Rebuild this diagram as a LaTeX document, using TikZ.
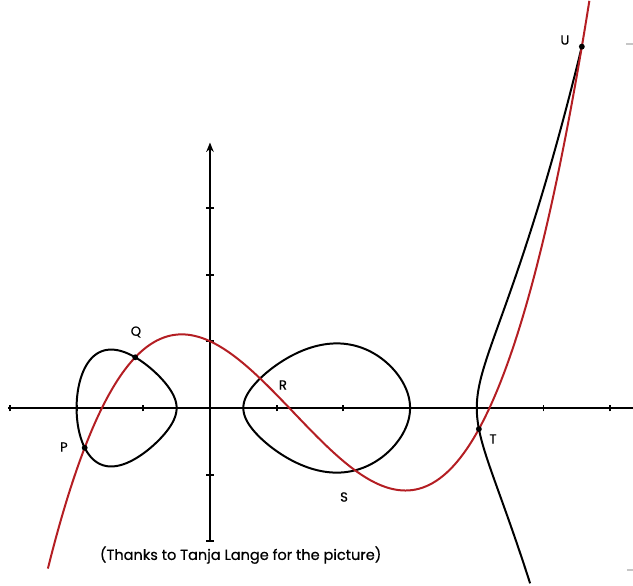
\documentclass[tikz,border=0pt]{standalone}
\usepackage{fontspec}
\setmainfont{Poppins}
\newfontfamily\labelfont[BoldFont=Poppins, BoldFeatures={FakeBold=0.6}]{Poppins}
\usetikzlibrary{intersections,arrows.meta}
\definecolor{curvered}{RGB}{180,30,35}
\begin{document}
\begin{tikzpicture}[x=1cm,y=1cm,
  declare function={
    gg(\x)=0.124*(\x+1.62)*(\x-1.19)*(\x-4.19);
    lx(\t)=-1.25-0.75*cos(\t);
    ly(\t)=0.75*sin(\t)*sqrt(0.031*(0.5-lx(\t))*(3-lx(\t))*(4-lx(\t)));
    rx(\t)=1.75-1.25*cos(\t);
    ry(\t)=1.25*sin(\t)*sqrt(0.031*(rx(\t)+2)*(rx(\t)+0.5)*(4-rx(\t)));
    bx(\s)=4+\s*\s;
    by(\s)=\s*sqrt(0.031*(bx(\s)+2)*(bx(\s)+0.5)*(bx(\s)-0.5)*(bx(\s)-3));
  },
  axisline/.style={line width=0.9pt},
  tickmark/.style={line width=0.8pt},
  blackcurve/.style={line width=0.85pt, line join=round},
  redcurve/.style={line width=0.85pt, curvered, line join=round},
  dotnode/.style={circle, fill=black, inner sep=0pt, minimum size=2.5pt},
  lbl/.style={font=\labelfont\bfseries\fontsize{5.6}{6.5}\selectfont, inner sep=0pt},
  capt/.style={font=\labelfont\bfseries\fontsize{6.2}{7.5}\selectfont, inner sep=0pt},
]
\useasboundingbox (-3.148,-2.654) rectangle (6.342,6.117);

% axes
\coordinate (xl) at (-3.03,0);
\coordinate (xr) at (6.36,0);
\coordinate (yb) at (0,-2);
\coordinate (yt) at (0,3.98);
\draw[axisline] (xl) -- (xr);
\draw[axisline,-{Stealth[length=4pt,width=3.2pt]}] (yb) -- (yt);
\foreach \i in {-3,-2,-1,1,2,3,4,5,6}
  \draw[tickmark] (\i,-0.05) -- (\i,0.05);
\foreach \j in {-2,-1,1,2,3}
  \draw[tickmark] (-0.055,\j) -- (0.055,\j);

% hyperelliptic curve
\draw[blackcurve, name path=lov] plot[domain=0:360, samples=140, smooth, variable=\t] ({lx(\t)},{ly(\t)}) -- cycle;
\draw[blackcurve, name path=rov] plot[domain=0:360, samples=160, smooth, variable=\t] ({rx(\t)},{ry(\t)}) -- cycle;
\draw[blackcurve, name path=br] plot[domain=-0.894:1.255, samples=120, smooth, variable=\s] ({bx(\s)},{by(\s)});

% red cubic
\draw[redcurve, name path=red] plot[domain=-2.43:5.69, samples=160, smooth] (\x,{gg(\x)});

% intersection points
\path[name intersections={of=red and lov, sort by=red, name=pq}];
\path[name intersections={of=red and br, sort by=red, name=tu}];
\node[dotnode] (dP) at (pq-1) {};
\node[dotnode] (dQ) at (pq-2) {};
\node[dotnode] (dT) at (tu-1) {};
\node[dotnode] (dU) at (5.575,{gg(5.575)}) {};

% labels
\node[lbl] (lP) at (-2.19,-0.585) {P};
\node[lbl] (lQ) at (-1.11,1.14) {Q};
\node[lbl] (lR) at (1.094,0.345) {R};
\node[lbl] (lS) at (2.01,-1.334) {S};
\node[lbl] (lT) at (4.243,-0.465) {T};
\node[lbl] (lU) at (5.322,5.517) {U};

\node[capt] (cap) at (0.46,-2.205) {(Thanks to Tanja Lange for the picture)};

% faint marks at right edge
\draw[gray!45, line width=0.6pt] (6.24,5.457) -- (6.342,5.457);
\draw[gray!45, line width=0.6pt] (6.25,-2.43) -- (6.342,-2.43);
\end{tikzpicture}
\end{document}
